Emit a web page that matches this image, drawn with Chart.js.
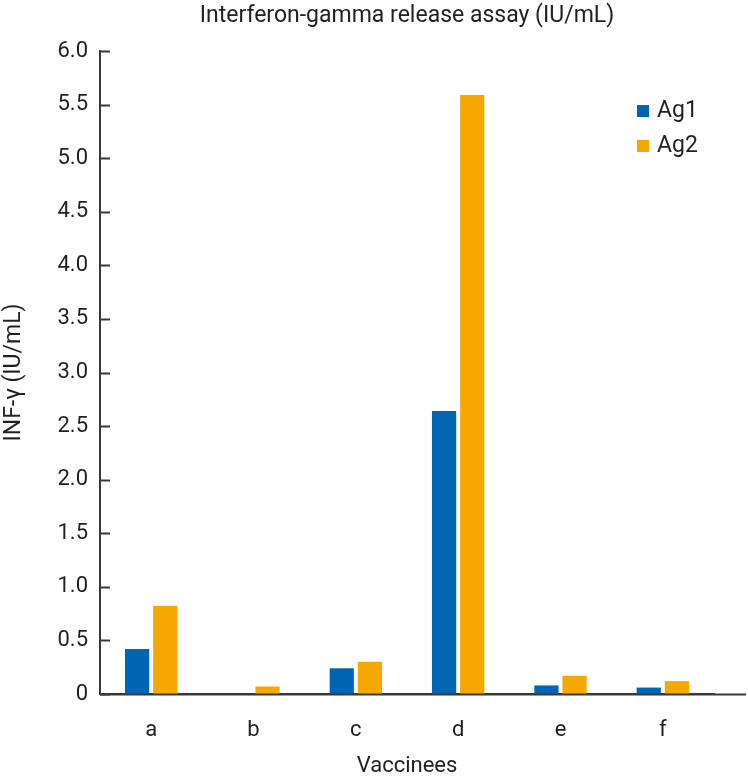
<!DOCTYPE html>
<html>
<head>
<meta charset="utf-8">
<script src="https://cdn.jsdelivr.net/npm/chart.js@4"></script>
<style>
  html, body { margin: 0; padding: 0; background: #fff; }
  #wrap { width: 748px; height: 780px; }
</style>
</head>
<body>
<div id="wrap"><canvas id="ifnChart"></canvas></div>
<script>
const categories = ['a', 'b', 'c', 'd', 'e', 'f']
const ag1Values = [0.42, 0, 0.24, 2.64, 0.08, 0.06]
const ag2Values = [0.82, 0.07, 0.30, 5.59, 0.17, 0.12]
const seriesNames = ['Ag1', 'Ag2']
const seriesColors = ['#0066b3', '#f5a800']
const chartTitle = 'Interferon-gamma release assay (IU/mL)'

const FONT = 'Roboto, "Noto Sans", sans-serif'
const INK = '#231f20'
const AXIS = '#3d3735'

// title over the plot, inner tick marks, longer x axis line, legend at top right
const decorPlugin = {
    id: 'decor',
    afterDraw(chart) {
        const ctx = chart.ctx
        const area = chart.chartArea
        const y = chart.scales.y
        ctx.save()
        ctx.strokeStyle = AXIS
        ctx.lineWidth = 2
        y.ticks.forEach(t => {
            const py = Math.round(y.getPixelForValue(t.value)) + 0.5
            ctx.beginPath()
            ctx.moveTo(area.left, py)
            ctx.lineTo(area.left + 10, py)
            ctx.stroke()
        })
        ctx.beginPath()
        ctx.moveTo(area.left, area.bottom + 0.5)
        ctx.lineTo(746, area.bottom + 0.5)
        ctx.stroke()

        ctx.fillStyle = INK
        ctx.font = '23px ' + FONT
        ctx.textAlign = 'center'
        ctx.textBaseline = 'middle'
        ctx.fillText(chartTitle, (area.left + area.right) / 2, 16)

        ctx.textAlign = 'left'
        ctx.font = '23px ' + FONT
        seriesNames.forEach((name, i) => {
            const ly = 111 + i * 35
            ctx.fillStyle = seriesColors[i]
            ctx.fillRect(637, ly - 6, 12, 12)
            ctx.fillStyle = INK
            ctx.fillText(name, 657, ly)
        })
        ctx.restore()
    }
}

new Chart(document.getElementById('ifnChart'), {
    type: 'bar',
    data: {
        labels: categories,
        datasets: [
            { label: seriesNames[0], data: ag1Values, backgroundColor: seriesColors[0] },
            { label: seriesNames[1], data: ag2Values, backgroundColor: seriesColors[1] }
        ]
    },
    options: {
        responsive: true,
        maintainAspectRatio: false,
        animation: false,
        layout: { padding: { top: 51, right: 34, left: 0, bottom: 0 } },
        datasets: {
            bar: { categoryPercentage: 0.55, barPercentage: 0.86 }
        },
        plugins: {
            legend: { display: false },
            tooltip: { enabled: false },
            title: { display: false }
        },
        scales: {
            x: {
                grid: { display: false, drawTicks: false },
                border: { display: true, color: AXIS, width: 2 },
                ticks: { color: INK, font: { family: FONT, size: 22 }, padding: 23 },
                title: {
                    display: true,
                    text: 'Vaccinees',
                    color: INK,
                    font: { family: FONT, size: 22 },
                    padding: { top: 14, bottom: 0 }
                },
                afterFit(scale) { scale.height = 86 }
            },
            y: {
                min: 0,
                max: 6,
                grid: { display: false, drawTicks: false },
                border: { display: true, color: AXIS, width: 2 },
                ticks: {
                    stepSize: 0.5,
                    color: INK,
                    font: { family: FONT, size: 22 },
                    padding: 12,
                    callback: v => v === 0 ? '0' : v.toFixed(1)
                },
                title: {
                    display: true,
                    text: 'INF-γ (IU/mL)',
                    color: INK,
                    font: { family: FONT, size: 23 },
                    padding: { top: 0, bottom: 6 }
                },
                afterFit(scale) { scale.width = 100 }
            }
        }
    },
    plugins: [decorPlugin]
})
</script>
</body>
</html>
